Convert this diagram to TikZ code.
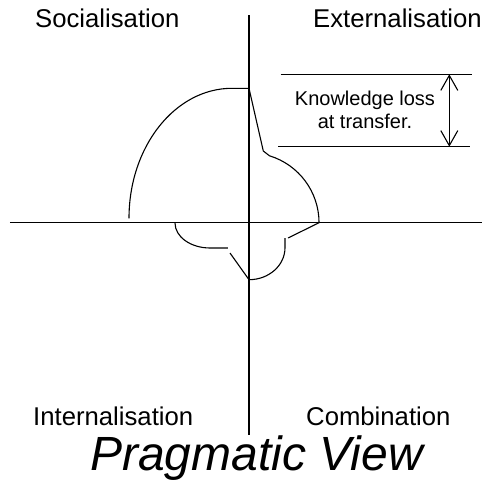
\documentclass[tikz,border=0pt]{standalone}
\usepackage{fontspec}
\setmainfont{Liberation Sans}
\usetikzlibrary{arrows.meta}
\tikzset{axis/.style={line width=1.1pt}, lobe/.style={line width=1.1pt,line join=round}, quad/.style={font=\fontsize{25.7}{30}\selectfont,anchor=base west,inner sep=0pt}, dimline/.style={line width=1.1pt}, dimarrow/.style={line width=1.1pt,{Straight Barb[length=15pt,width=17pt]}-{Straight Barb[length=15pt,width=17pt]}}}

\begin{document}
\begin{tikzpicture}[x=1pt,y=1pt]
\clip (-249,-257.3) rectangle (233,222.7);
\useasboundingbox (-249,-257.3) rectangle (233,222.7);
\coordinate (xl) at (-239,0);
\coordinate (xr) at (233,0);
\coordinate (yt) at (0,207.7);
\coordinate (yb) at (0,-212.3);
\coordinate (top) at (0,134.4);
\coordinate (ua) at (31.7,148.4);
\coordinate (ub) at (222.7,148.4);
\coordinate (la) at (29.3,76);
\coordinate (lb) at (221,76);
\coordinate (at) at (200.3,148.4);
\coordinate (ab) at (200.3,76);
\draw[axis] (xl) -- (xr);
\draw[axis] (yt) -- (yb);
\draw[lobe] (-120,4.4) arc[start angle=180,end angle=90,x radius=103,y radius=130] -- (top) -- (14.3,71.7) -- (20.5,66.9) arc[start angle=73,end angle=0,radius=70] -- (39,-15.3);
\draw[lobe] (36,-15.3) -- (36,-25) arc[start angle=0,end angle=-90,x radius=36,y radius=32] -- (-19,-30.3);
\draw[lobe] (-21,-25.3) -- (-39,-25.3) arc[start angle=270,end angle=180,x radius=35,y radius=25];
\draw[dimline] (ua) -- (ub);
\draw[dimline] (la) -- (lb);
\draw[dimarrow] (at) -- (ab);
\node[font=\fontsize{20}{23.3}\selectfont,align=center,inner sep=0pt] (loss) at (116,113.2) {Knowledge loss\\at transfer.};
\node[quad] (soc) at (-214,195.7) {Socialisation};
\node[quad] (ext) at (64,195.7) {Externalisation};
\node[quad] (int) at (-216,-202.3) {Internalisation};
\node[quad] (com) at (57,-202.3) {Combination};
\node[font=\fontsize{48}{56}\selectfont\itshape,anchor=base west,inner sep=0pt] (title) at (-159,-247.3) {Pragmatic View};
\end{tikzpicture}
\end{document}
